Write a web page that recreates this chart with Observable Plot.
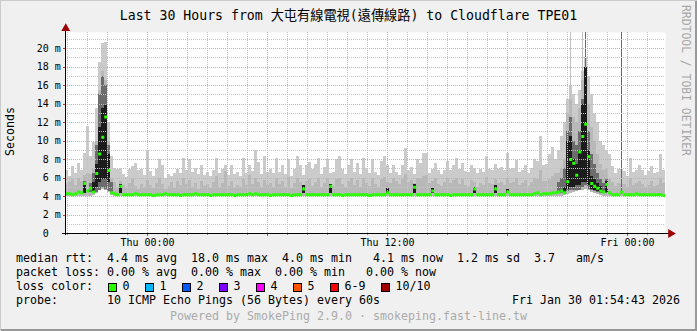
<!DOCTYPE html>
<html>
<head>
<meta charset="utf-8">
<script src="https://cdn.jsdelivr.net/npm/d3@7"></script>
<script src="https://cdn.jsdelivr.net/npm/@observablehq/plot@0.6"></script>
<style>
html,body{margin:0;padding:0;background:#ffffff;}
#chart{position:relative;width:697px;height:331px;background:#f0f0f0;overflow:hidden;
  box-shadow: inset 1px 1px 0 #cbcbcb, inset -2px -2px 0 #999999;
  font-family:"DejaVu Sans Mono",monospace;color:#000;}
.txt{position:absolute;white-space:pre;line-height:1;}
.box{position:absolute;width:9px;height:9px;box-sizing:border-box;border:1px solid #000;}
#plot{position:absolute;left:0;top:0;}
</style>
</head>
<body>
<div id="chart"><div id="plot"></div></div>
<script>
// ---------------- texts ----------------
const title = "Last 30 Hours from 大屯有線電視(遠傳線路) to Cloudflare TPE01";
const yLabel = "Seconds";
const watermark = "RRDTOOL / TOBI OETIKER";
const xTickHours = [0, 12, 24];               // hours relative to Thu 00:00
const xTickLabels = ["Thu 00:00", "Thu 12:00", "Fri 00:00"];
const yTicks = [0, 2, 4, 6, 8, 10, 12, 14, 16, 18, 20];   // milliseconds
const yTickLabels = ["0\u00a0\u00a0", "2 m", "4 m", "6 m", "8 m", "10 m", "12 m", "14 m", "16 m", "18 m", "20 m"];
const legendNames = ["median rtt:", "packet loss:", "loss color:", "probe:"];
const medianText = "4.4 ms avg  18.0 ms max  4.0 ms min   4.1 ms now  1.2 ms sd  3.7   am/s";
const lossText = "0.00 % avg  0.00 % max  0.00 % min   0.00 % now";
const probeText = "10 ICMP Echo Pings (56 Bytes) every 60s";
const dateText = "Fri Jan 30 01:54:43 2026";
const footerText = "Powered by SmokePing 2.9.0 \u00b7 smokeping.fast-line.tw";
const lossLabels = ["0", "1", "2", "3", "4", "5", "6-9", "10/10"];
const lossColors = ["#26ff00", "#00b8ff", "#0059ff", "#7e00ff", "#ff00ff", "#ff5500", "#ff0000", "#a10000"];

// ---------------- time base ----------------
const startHour = -4.088;   // Wed 19:54:43, hours relative to Thu 00:00
const spanHours = 30;
const stepHours = 0.15;     // 9 minute buckets, 200 buckets

// ---------------- smoke data (ms), one value per bucket ----------------
// max ping (light smoke top)
const mx = [
 6.8, 6.2, 7.2, 6.5, 7.6, 6.8, 8.7, 11.6, 8.3, 9.8,
 13.5, 18.5, 20.5, 20.6, 12.0, 8.3,
 7.0, 6.9, 7.0, 6.4, 6.1, 6.9, 7.2, 7.6, 6.8, 6.9, 6.3, 9.0,
 6.7, 6.2, 6.9, 8.0, 7.4, 5.9, 6.4, 6.2, 6.5, 6.9, 6.5, 8.1,
 6.8, 8.0, 6.6, 7.0, 6.4, 7.4, 6.3, 6.6, 6.2, 6.8, 8.1, 6.5,
 6.9, 7.4, 6.3, 7.3, 6.4, 6.6, 6.2, 8.1, 6.5, 7.3, 6.7, 9.0,
 7.7, 6.4, 8.3, 6.6, 6.9, 6.5, 8.1, 6.6, 7.3, 6.4, 8.0, 6.2,
 6.9, 8.3, 7.4, 6.3, 7.3, 7.7, 6.9, 7.5, 8.1, 6.4, 7.1, 8.0,
 6.5, 6.6, 8.0, 8.3, 6.9, 6.4, 7.4, 8.0, 6.6, 7.6, 6.4, 8.1,
 7.0, 6.5, 8.0, 6.6, 6.3, 7.8, 8.3, 7.3, 6.5, 7.4, 6.6, 6.3,
 7.3, 9.2, 6.8, 7.1, 6.4, 8.0, 7.6, 8.6, 8.7, 6.5, 6.9, 7.6,
 6.8, 6.4, 6.8, 7.8, 6.8, 7.4, 8.1, 6.9, 7.6, 6.7, 6.6, 7.4,
 7.0, 6.5, 6.9, 6.6, 8.3, 6.9, 6.8, 7.5, 6.9, 7.1, 6.8, 8.7,
 6.9, 7.0, 7.9, 6.6, 6.8, 7.4, 6.5, 7.0, 8.0, 7.8, 10.5, 7.3,
 7.5, 8.5, 9.3, 8.0, 9.0, 10.5, 12.0, 14.5, 16.0, 15.0, 14.0,
 15.5, 17.5, 19.0, 17.0, 15.0, 13.0, 12.0, 10.0, 9.5, 9.0, 8.5,
 7.2, 6.5, 6.9, 6.9, 6.7, 6.2, 8.1, 6.6, 6.8, 7.3, 6.8, 6.3, 6.7, 7.2, 6.5, 6.6, 8.5, 6.8
];
// upper inner pings (mid smoke top)
const hi = [
 5.3, 5.5, 5.8, 5.2, 6.0, 5.6, 6.3, 6.5, 6.4, 7.0,
 10.0, 15.5, 17.5, 16.5, 10.0, 6.0,
 5.5, 5.0, 5.6, 5.2, 4.9, 5.4, 5.8, 5.1, 4.8, 5.3, 5.0, 5.7,
 5.2, 4.9, 5.4, 5.9, 5.3, 4.8, 5.1, 5.5, 4.9, 5.6, 5.2, 6.0,
 5.3, 5.7, 5.0, 5.4, 4.8, 5.6, 5.1, 5.3, 4.9, 5.5, 6.2, 5.0,
 5.4, 6.7, 5.1, 5.6, 4.9, 5.2, 5.0, 5.8, 5.2, 6.3, 5.3, 5.9,
 5.5, 5.0, 5.7, 5.2, 5.4, 5.0, 5.9, 5.3, 5.6, 5.0, 6.1, 4.9,
 5.4, 6.0, 5.5, 5.2, 5.6, 5.8, 5.1, 5.5, 6.0, 5.0, 5.4, 5.9,
 5.3, 5.1, 5.8, 6.0, 5.3, 5.0, 5.6, 5.9, 5.2, 5.7, 5.0, 6.0,
 5.4, 5.1, 5.9, 5.3, 5.0, 5.8, 6.1, 5.5, 5.4, 5.9, 5.6, 5.3,
 5.8, 6.4, 5.5, 5.7, 5.4, 6.0, 5.8, 6.2, 6.3, 5.4, 5.6, 5.9,
 5.3, 5.1, 5.5, 5.9, 5.4, 5.7, 6.0, 5.3, 5.8, 5.2, 5.1, 5.7,
 5.5, 5.0, 5.4, 5.2, 6.1, 5.4, 5.3, 5.8, 5.4, 5.5, 5.2, 6.0,
 5.4, 5.5, 5.9, 5.2, 5.4, 5.7, 5.1, 5.5, 6.0, 5.8, 6.8, 5.6,
 5.6, 5.8, 6.2, 6.5, 6.5, 7.0, 8.0, 13.0, 14.5, 12.5, 12.0,
 13.5, 16.5, 18.0, 14.0, 11.5, 10.0, 8.5, 7.5, 6.8, 7.0, 5.8,
 5.5, 5.1, 5.4, 5.3, 5.3, 5.0, 5.9, 5.2, 5.4, 5.6, 5.3, 5.0, 5.2, 5.6, 5.1, 5.2, 6.0, 5.4
];
// median rtt
const md = [
 4.3, 4.3, 4.2, 4.3, 4.5, 4.4, 5.4, 4.6, 4.9, 4.5,
 6.5, 8.6, 10.4, 12.6, 6.8, 4.4,
 4.3, 4.2, 5.1, 4.2, 4.2, 4.2, 4.2, 4.3, 4.2, 4.2, 4.2, 4.2,
 4.2, 4.1, 4.2, 4.2, 4.2, 4.3, 4.2, 4.2, 4.2, 4.2, 4.1, 4.2,
 4.2, 4.2, 4.2, 4.3, 4.2, 4.2, 4.2, 4.2, 4.1, 4.2, 4.2, 4.2,
 4.2, 4.2, 4.2, 4.2, 4.1, 4.2, 4.2, 4.2, 4.2, 4.3, 4.2, 4.3,
 4.2, 4.2, 4.2, 4.2, 4.1, 4.2, 4.2, 4.2, 4.2, 4.2, 4.2, 4.1,
 4.2, 4.2, 4.2, 4.8, 4.2, 4.2, 4.2, 4.2, 4.2, 4.2, 4.2, 4.2,
 5.1, 4.2, 4.2, 4.2, 4.1, 4.2, 4.2, 4.2, 4.2, 4.2, 4.2, 4.2,
 4.2, 4.1, 4.2, 4.2, 4.2, 4.2, 4.2, 4.4, 4.2, 4.2, 4.2, 4.2,
 4.2, 4.2, 4.2, 4.2, 5.0, 4.2, 4.2, 4.2, 4.2, 4.2, 4.6, 4.2,
 4.2, 4.2, 4.2, 4.2, 4.1, 4.2, 4.2, 4.2, 4.2, 4.2, 4.2, 4.2,
 4.8, 4.2, 4.2, 4.2, 4.2, 4.2, 4.2, 4.8, 4.2, 4.2, 4.2, 4.5,
 4.2, 4.2, 4.2, 4.2, 4.2, 4.2, 4.2, 4.2, 4.3, 4.4, 4.2, 4.3,
 4.3, 4.3, 4.4, 4.4, 4.5, 4.6, 4.4, 5.6, 8.0, 7.6, 6.3,
 8.8, 10.5, 11.8, 8.3, 5.4, 5.1, 4.9, 4.6, 4.5, 5.3, 4.4,
 4.2, 4.2, 4.2, 4.5, 4.2, 4.2, 4.2, 4.2, 4.3, 4.2, 4.2, 4.2, 4.2, 4.2, 4.2, 4.2, 4.2, 4.1
];
// min ping (smoke bottom)
const mn = [
 4.0, 4.0, 4.0, 4.0, 4.0, 4.0, 4.0, 4.0, 4.0, 4.1,
 4.3, 4.6, 4.8, 4.7, 4.4, 4.1,
 4.0, 4.0, 4.0, 4.0, 4.0, 4.0, 4.0, 4.0, 4.0, 4.0, 4.0, 4.0,
 4.0, 4.0, 4.0, 4.0, 4.0, 4.0, 4.0, 4.0, 4.0, 4.0, 4.0, 4.0,
 4.0, 4.0, 4.0, 4.0, 4.0, 4.0, 4.0, 4.0, 4.0, 4.0, 4.0, 4.0,
 4.0, 4.0, 4.0, 4.0, 4.0, 4.0, 4.0, 4.0, 4.0, 4.0, 4.0, 4.0,
 4.0, 4.0, 4.0, 4.0, 4.0, 4.0, 4.0, 4.0, 4.0, 4.0, 4.0, 4.0,
 4.0, 4.0, 4.0, 4.0, 4.0, 4.0, 4.0, 4.0, 4.0, 4.0, 4.0, 4.0,
 4.0, 4.0, 4.0, 4.0, 4.0, 4.0, 4.0, 4.0, 4.0, 4.0, 4.0, 4.0,
 4.0, 4.0, 4.0, 4.0, 4.0, 4.0, 4.0, 4.0, 4.0, 4.0, 4.0, 4.0,
 4.0, 4.0, 4.0, 4.0, 4.0, 4.0, 4.0, 4.0, 4.0, 4.0, 4.0, 4.0,
 4.0, 4.0, 4.0, 4.0, 4.0, 4.0, 4.0, 4.0, 4.0, 4.0, 4.0, 4.0,
 4.0, 4.0, 4.0, 4.0, 4.0, 4.0, 4.0, 4.0, 4.0, 4.0, 4.0, 4.0,
 4.0, 4.0, 4.0, 4.0, 4.0, 4.0, 4.0, 4.0, 4.0, 4.0, 4.0, 4.0,
 4.0, 4.0, 4.0, 4.0, 4.0, 4.0, 4.1, 4.2, 4.3, 4.4, 4.5,
 4.6, 4.6, 4.8, 4.6, 4.4, 4.3, 4.2, 4.1, 4.0, 4.0, 4.0,
 4.0, 4.0, 4.0, 4.0, 4.0, 4.0, 4.0, 4.0, 4.0, 4.0, 4.0, 4.0, 4.0, 4.0, 4.0, 4.0, 4.0, 4.0
];
// darker smoke (inner pings) where visible: bucket index, low, high
const shIdx = [6, 8, 9, 10, 11, 12, 13, 14, 15, 164, 165, 166, 167, 168, 169, 170, 171, 172, 173, 174, 175, 176, 177, 178, 179, 180];
const shLo  = [4.4, 4.4, 4.4, 4.4, 4.7, 5.0, 4.8, 4.5, 4.3, 4.3, 4.3, 4.4, 4.5, 4.6, 4.6, 4.7, 4.7, 5.0, 5.2, 4.8, 4.6, 4.5, 4.4, 4.3, 4.3, 4.3];
const shHi  = [5.6, 5.4, 6.5, 9.5, 15.0, 17.0, 16.0, 9.5, 5.5, 5.5, 6.0, 7.0, 11.0, 12.5, 10.0, 9.5, 11.0, 14.5, 16.5, 11.0, 8.5, 7.5, 6.5, 5.8, 5.4, 5.8];
// core smoke (pings around the median) where visible
const coIdx = [6, 9, 10, 11, 12, 13, 14, 18, 79, 88, 107, 116, 122, 136, 143, 147, 166, 167, 168, 169, 170, 171, 172, 173, 174, 175, 176, 177, 178, 180];
const coLo  = [4.3, 4.5, 5.0, 5.5, 5.8, 5.8, 5.5, 4.3, 4.3, 4.3, 4.3, 4.3, 4.3, 4.3, 4.3, 4.3, 4.4, 4.8, 5.0, 5.0, 5.2, 5.2, 5.5, 5.5, 5.2, 4.8, 4.7, 4.5, 4.4, 4.4];
const coHi  = [5.5, 5.5, 7.5, 11.5, 13.5, 13.8, 8.5, 5.3, 5.2, 5.3, 4.9, 5.3, 4.9, 5.0, 5.2, 4.8, 5.0, 10.0, 10.5, 8.0, 7.5, 9.0, 14.0, 18.0, 9.0, 6.2, 5.8, 5.4, 5.1, 5.6];
// single-sample outliers reaching beyond the top of the graph (bucket index, low, high)
const lightOutIdx = [168, 172];
const lightOutLo  = [4.5, 4.8];
const lightOutHi  = [23.0, 23.0];
const darkOutIdx  = [173, 185];
const darkOutLo   = [5.5, 4.2];
const darkOutHi   = [23.0, 23.0];

// ---------------- build ----------------
const rows = mx.map((v, i) => ({t1: startHour + i * stepHours, t2: startHour + (i + 1) * stepHours, mn: mn[i], mx: v, hi: hi[i], md: md[i]}));
const seg = (idx, lo, up) => idx.map((k, j) => ({t1: startHour + k * stepHours, t2: startHour + (k + 1) * stepHours, lo: lo[j], up: up[j]}));
const shade = seg(shIdx, shLo, shHi);
const core = seg(coIdx, coLo, coHi);
const lightOut = seg(lightOutIdx, lightOutLo, lightOutHi);
const darkOut = seg(darkOutIdx, darkOutLo, darkOutHi);

const hours = d3.range(-4, 26);
const minorH = hours.filter(h => h % 6 !== 0);
const majorH = hours.filter(h => h % 6 === 0);
const minorY = d3.range(1, 22, 2);
const majorY = d3.range(2, 21, 2);
const yMax = 21.73;
const tEnd = startHour + spanHours;

const GRID = "#c4c4c4", MGRID = "#e8a2a2", ARROW = "#a00000";
const crisp = {clip: true, shapeRendering: "crispEdges"};

const plot = Plot.plot({
  width: 697, height: 252,
  marginLeft: 65.24, marginRight: 31.76, marginTop: 32, marginBottom: 19,
  x: {domain: [startHour, tEnd], axis: "bottom", ticks: xTickHours,
      tickFormat: h => xTickLabels[xTickHours.indexOf(h)], tickSize: 0, tickPadding: 5.5, label: null},
  y: {domain: [0, yMax], axis: "left", ticks: yTicks,
      tickFormat: v => yTickLabels[yTicks.indexOf(v)], tickSize: 0, tickPadding: 5, label: null},
  style: {background: "transparent", fontFamily: "'DejaVu Sans Mono', monospace", fontSize: "10px", color: "#000", overflow: "visible"},
  marks: [
    Plot.frame({fill: "#ffffff", stroke: "none"}),
    Plot.rect(rows, {x1: "t1", x2: "t2", y1: "mn", y2: "mx", fill: "#cbcbcb", ...crisp}),
    Plot.rect(lightOut, {x1: "t1", x2: "t2", y1: "lo", y2: "up", fill: "#c2c2c2", insetLeft: 1, insetRight: 1, ...crisp}),
    Plot.rect(rows, {x1: "t1", x2: "t2", y1: "mn", y2: "hi", fill: "#b8b8b8", ...crisp}),
    Plot.rect(shade, {x1: "t1", x2: "t2", y1: "lo", y2: "up", fill: "#6c6c6c", ...crisp}),
    Plot.rect(darkOut, {x1: "t1", x2: "t2", y1: "lo", y2: "up", fill: "#6a6a6a", insetLeft: 1, insetRight: 1, ...crisp}),
    Plot.rect(core, {x1: "t1", x2: "t2", y1: "lo", y2: "up", fill: "#1c1c1c", ...crisp}),
    Plot.ruleX(minorH, {stroke: GRID, strokeDasharray: "1,1", shapeRendering: "crispEdges"}),
    Plot.ruleY(minorY, {stroke: GRID, strokeDasharray: "1,1", shapeRendering: "crispEdges"}),
    Plot.ruleX(majorH, {stroke: MGRID, strokeDasharray: "1,1", shapeRendering: "crispEdges"}),
    Plot.ruleY(majorY, {stroke: MGRID, strokeDasharray: "1,1", shapeRendering: "crispEdges"}),
    Plot.ruleY(rows, {x1: "t1", x2: "t2", y: "md", stroke: "#26ff00", strokeWidth: 3, clip: true}),
    // axis ticks
    Plot.ruleX(minorH, {y1: 0, y2: -0.22, stroke: "#8f8f8f", shapeRendering: "crispEdges"}),
    Plot.ruleX(majorH, {y1: 0, y2: -0.3, stroke: "#de3030", shapeRendering: "crispEdges"}),
    Plot.ruleY(majorY, {x1: startHour - 0.1, x2: startHour, stroke: "#de3030", shapeRendering: "crispEdges"}),
    // axis lines and arrows
    Plot.ruleY([0], {x1: startHour - 0.17, x2: tEnd + 0.2, stroke: "#000", shapeRendering: "crispEdges"}),
    Plot.ruleX([startHour], {y1: -0.25, y2: yMax + 0.3, stroke: "#000", shapeRendering: "crispEdges"}),
    Plot.dot([tEnd + 0.25], {x: d => d, y: 0, symbol: "triangle", r: 3.3, rotate: 90, fill: ARROW, stroke: "none"}),
    Plot.dot([yMax + 0.45], {x: startHour, y: d => d, symbol: "triangle", r: 3.3, fill: ARROW, stroke: "none"})
  ]
});
document.getElementById("plot").appendChild(plot);

// ---------------- html texts ----------------
const chart = document.getElementById("chart");
function addText(str, x, baseline, size, extra) {
  const d = document.createElement("div");
  d.className = "txt";
  d.textContent = str;
  d.style.fontSize = size + "px";
  d.style.left = x + "px";
  d.style.top = (baseline - 0.846 * size) + "px";
  if (extra) Object.assign(d.style, extra);
  chart.appendChild(d);
  return d;
}
const LF = 11.63;
addText(title, 0, 20, 13.2, {width: "697px", textAlign: "center", fontFamily: "'DejaVu Sans Mono','Noto Sans CJK TC',monospace"});
addText(yLabel, 5.2, 0, LF, {transformOrigin: "0 0", transform: "rotate(-90deg)", top: "156px"});
addText(watermark, 691.3, 0, 11.4, {transformOrigin: "0 0", transform: "rotate(90deg)", top: "5px", color: "#a8a8a8"});
const base = [263.3, 277.3, 291.3, 305.3];
legendNames.forEach((s, k) => addText(s, 16, base[k], LF));
addText(medianText, 107, base[0], LF);
addText(lossText, 107, base[1], LF);
addText(probeText, 107, base[3], LF);
addText(dateText, 0, base[3], LF, {left: "auto", right: "17px"});
addText(footerText, 0, 321, LF, {width: "697px", textAlign: "center", color: "#ababab"});
let bx = 108;
lossLabels.forEach((lab, k) => {
  const b = document.createElement("div");
  b.className = "box";
  b.style.left = bx + "px";
  b.style.top = (base[2] - 8.5) + "px";
  b.style.background = lossColors[k];
  chart.appendChild(b);
  addText(lab, bx + 14.6, base[2], LF);
  bx += 30 + 7 * lab.length;
});
</script>
</body>
</html>
